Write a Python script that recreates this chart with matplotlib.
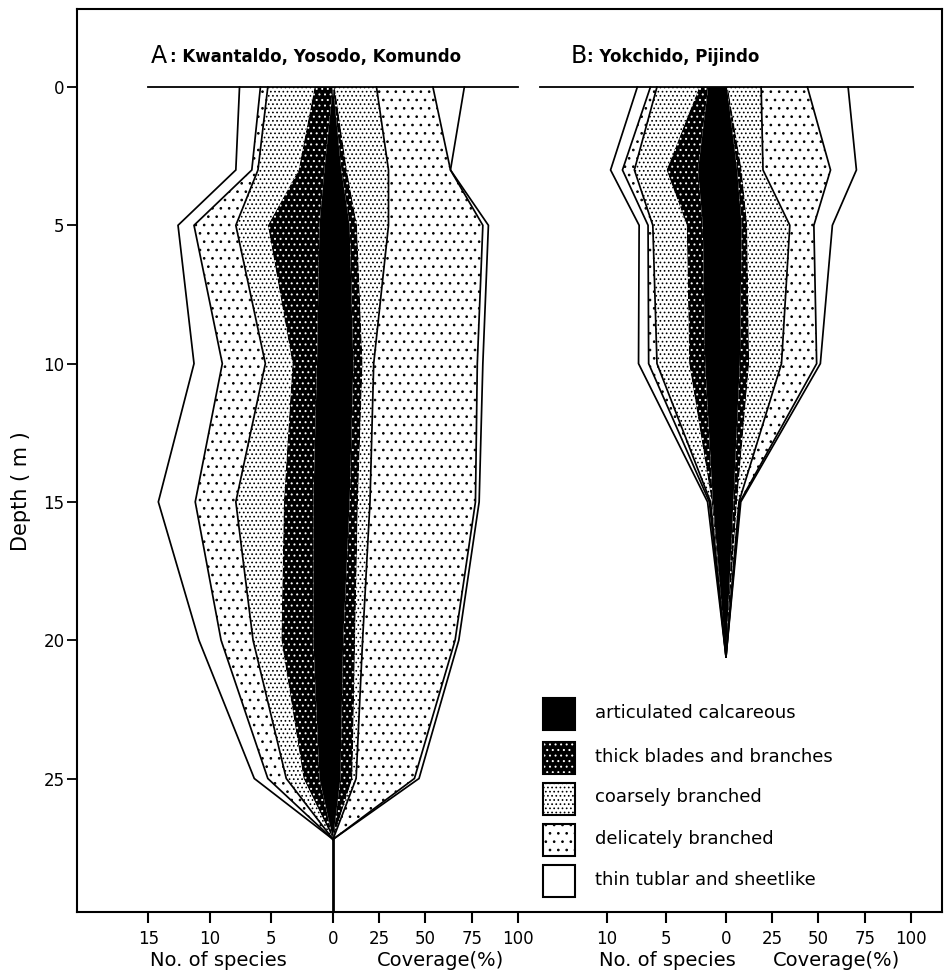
import numpy as np
import matplotlib
matplotlib.use("Agg")
import matplotlib.pyplot as plt
from matplotlib.patches import Rectangle

plt.rcParams['font.family'] = ['DejaVu Sans']
plt.rcParams['hatch.linewidth'] = 0.7

# ---------------- data ----------------
categories = ["articulated calcareous", "thick blades and branches",
              "coarsely branched", "delicately branched",
              "thin tublar and sheetlike"]

# Panel A : Kwantaldo, Yosodo, Komundo
depth_A = [0, 3, 5, 10, 15, 20, 25, 27.2]
art_sp_A    = [0.0, 0.7, 1.1, 1.3, 1.6, 1.6, 1.1, 0]
thick_sp_A  = [1.5, 2.1, 4.2, 2.0, 2.4, 2.6, 1.3, 0]
coarse_sp_A = [3.8, 3.3, 2.6, 2.2, 3.9, 2.3, 1.4, 0]
deli_sp_A   = [0.6, 0.5, 3.4, 3.5, 3.3, 2.6, 1.5, 0]
thin_sp_A   = [1.7, 1.3, 1.3, 2.3, 3.0, 1.8, 1.1, 0]

art_cov_A    = [0.0, 4.5, 9.0, 11.0, 9.0, 5.5, 4.0, 0]
thick_cov_A  = [1.0, 3.0, 4.0, 5.0, 4.5, 6.5, 6.5, 0]
coarse_cov_A = [22.5, 22.5, 17.0, 6.0, 6.5, 4.0, 2.0, 0]
deli_cov_A   = [30.5, 33.5, 51.0, 56.0, 57.0, 50.0, 31.5, 0]
thin_cov_A   = [17.0, 0.0, 3.0, 3.0, 2.0, 2.0, 2.5, 0]

# Panel B : Yokchido, Pijindo
depth_B = [0, 3, 5, 10, 15, 20.6]
art_sp_B    = [1.5, 2.35, 1.95, 1.75, 1.1, 0]
thick_sp_B  = [0.75, 2.65, 1.35, 1.35, 0.1, 0]
coarse_sp_B = [3.55, 2.7, 2.85, 2.7, 0.1, 0]
deli_sp_B   = [0.55, 1.0, 0.4, 0.7, 0.1, 0]
thin_sp_B   = [1.1, 1.0, 0.75, 0.85, 0.15, 0]

art_cov_B    = [0.5, 6.0, 8.5, 7.5, 4.0, 0]
thick_cov_B  = [0.5, 2.5, 3.0, 5.0, 2.0, 0]
coarse_cov_B = [18.0, 11.5, 23.0, 17.5, 1.0, 0]
deli_cov_B   = [25.0, 36.5, 13.0, 19.0, 0.5, 0]
thin_cov_B   = [22.0, 14.0, 10.0, 2.0, 0.5, 0]

depth_ticks = [0, 5, 10, 15, 20, 25]
sp_ticks_A = [15, 10, 5]
sp_ticks_B = [10, 5]
cov_ticks = [25, 50, 75, 100]

# ---------------- layout (pixel-like x units) ----------------
W, H = 944, 977
A_center, A_sp, A_cov = 333.0, 12.3, 1.85
B_center, B_sp, B_cov = 726.0, 11.9, 1.85
X0, X1 = 77.0, 942.0
Y_TOP_PX, Y_BOT_PX = 9.3, 911.5
Y0_PX, PX_PER_M = 87.0, 27.66
ylim_top = -(Y0_PX - Y_TOP_PX) / PX_PER_M
ylim_bot = (Y_BOT_PX - Y0_PX) / PX_PER_M

styles = [
    dict(face='black', hatch=None, hcol=None),
    dict(face='black', hatch='...', hcol='white'),
    dict(face='white', hatch='....', hcol='black'),
    dict(face='white', hatch='..', hcol='black'),
    dict(face='white', hatch=None, hcol=None),
]

fig = plt.figure(figsize=(W / 100, H / 100), dpi=100)
ax = fig.add_axes([X0 / W, (H - Y_BOT_PX) / H, (X1 - X0) / W,
                   (Y_BOT_PX - Y_TOP_PX) / H])
ax.set_xlim(X0, X1)
ax.set_ylim(ylim_bot, ylim_top)


def fill(axis, y, xa, xb, st, z):
    axis.fill_betweenx(y, xa, xb, facecolor=st['face'], edgecolor='none',
                       linewidth=0, zorder=z)
    if st['hatch']:
        axis.fill_betweenx(y, xa, xb, facecolor='none', edgecolor=st['hcol'],
                           hatch=st['hatch'], linewidth=0, zorder=z + 0.1)


def panel(depth, sp_layers, cov_layers, center, sp_px, cov_px):
    d = np.array(depth, float)
    cum_sp = np.cumsum(np.array(sp_layers, float), axis=0)
    cum_cov = np.cumsum(np.array(cov_layers, float), axis=0)
    left = center - sp_px * cum_sp
    right = center + cov_px * cum_cov
    inner_l = np.full_like(d, center)
    inner_r = np.full_like(d, center)
    for k, st in enumerate(styles):
        fill(ax, d, left[k], inner_l, st, 1)
        fill(ax, d, inner_r, right[k], st, 1)
        inner_l = left[k]
        inner_r = right[k]
    for k in (2, 3, 4):
        ax.plot(left[k], d, color='black', lw=1.25, zorder=3,
                solid_joinstyle='miter')
        ax.plot(right[k], d, color='black', lw=1.25, zorder=3,
                solid_joinstyle='miter')


panel(depth_A, [art_sp_A, thick_sp_A, coarse_sp_A, deli_sp_A, thin_sp_A],
      [art_cov_A, thick_cov_A, coarse_cov_A, deli_cov_A, thin_cov_A],
      A_center, A_sp, A_cov)
panel(depth_B, [art_sp_B, thick_sp_B, coarse_sp_B, deli_sp_B, thin_sp_B],
      [art_cov_B, thick_cov_B, coarse_cov_B, deli_cov_B, thin_cov_B],
      B_center, B_sp, B_cov)

# surface lines and stem
ax.plot([A_center - 15 * A_sp, A_center + 100 * A_cov], [0, 0],
        color='black', lw=1.3, zorder=4)
ax.plot([B_center - 15.6 * B_sp, B_center + 101 * B_cov], [0, 0],
        color='black', lw=1.3, zorder=4)
ax.plot([A_center, A_center], [depth_A[-1], ylim_bot], color='black',
        lw=2.0, zorder=4)

# axes styling
for s in ax.spines.values():
    s.set_linewidth(1.5)
ax.set_yticks(depth_ticks)
ax.set_yticklabels([str(t) for t in depth_ticks], fontsize=12)
ax.tick_params(axis='y', direction='out', length=7, width=1.3, pad=2)

xt, xl = [], []
for s in sp_ticks_A:
    xt.append(A_center - s * A_sp); xl.append(str(s))
xt.append(A_center); xl.append('0')
for c in cov_ticks:
    xt.append(A_center + c * A_cov); xl.append(str(c))
for s in sp_ticks_B:
    xt.append(B_center - s * B_sp); xl.append(str(s))
xt.append(B_center); xl.append('0')
for c in cov_ticks:
    xt.append(B_center + c * B_cov); xl.append(str(c))
ax.set_xticks(xt)
ax.set_xticklabels(xl, fontsize=12)
ax.tick_params(axis='x', direction='out', length=8, width=1.5, pad=5)

# ---------------- overlay in pixel coordinates ----------------
ov = fig.add_axes([0, 0, 1, 1])
ov.set_xlim(0, W)
ov.set_ylim(H, 0)
ov.set_axis_off()

ov.text(21, 491, 'Depth ( m )', rotation=90, ha='center', va='center',
        fontsize=15)
ov.text(218, 961, 'No. of species', ha='center', va='center', fontsize=14)
ov.text(441, 961, 'Coverage(%)', ha='center', va='center', fontsize=14)
ov.text(667, 961, 'No. of species', ha='center', va='center', fontsize=14)
ov.text(837, 961, 'Coverage(%)', ha='center', va='center', fontsize=14)

ov.text(151, 56, 'A', ha='left', va='center', fontsize=17)
ov.text(170, 57, ': Kwantaldo, Yosodo, Komundo', ha='left', va='center',
        fontsize=12, fontweight='bold')
ov.text(571, 56, 'B', ha='left', va='center', fontsize=17)
ov.text(587, 57, ': Yokchido, Pijindo', ha='left', va='center',
        fontsize=12, fontweight='bold')

# legend
row_y = [714, 757.5, 798.5, 840, 881]
for k, (name, st) in enumerate(zip(categories, styles)):
    y = row_y[k]
    ov.add_patch(Rectangle((543, y - 16), 32, 32, facecolor=st['face'],
                           edgecolor='none', lw=0, zorder=2))
    if st['hatch']:
        ov.add_patch(Rectangle((543, y - 16), 32, 32, facecolor='none',
                               edgecolor=st['hcol'], hatch=st['hatch'],
                               lw=0, zorder=3))
    ov.add_patch(Rectangle((543, y - 16), 32, 32, facecolor='none',
                           edgecolor='black', lw=1.5, zorder=4))
    ov.text(595, y - 1, name, ha='left', va='center', fontsize=13)

fig.savefig('out.png', dpi=100)
